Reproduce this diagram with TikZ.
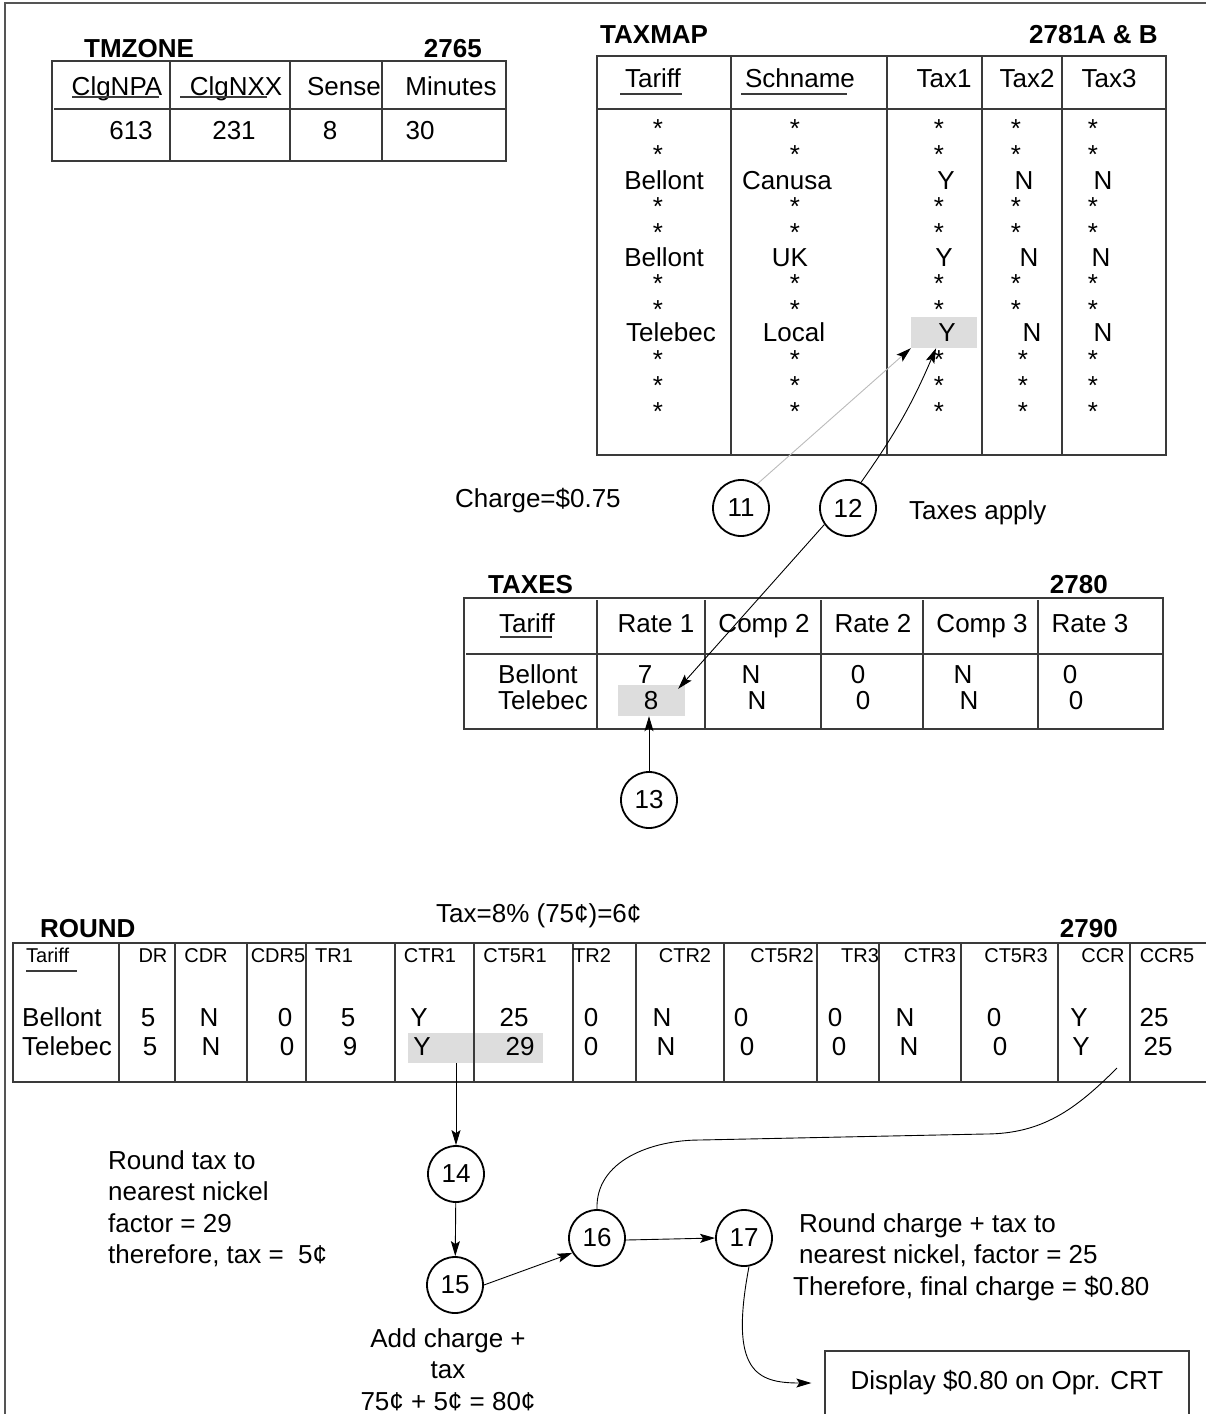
\documentclass[tikz,border=0pt]{standalone}
\usepackage{fontspec}
\setmainfont{Liberation Sans}
\usetikzlibrary{arrows.meta, calc}
\definecolor{tblline}{HTML}{3a3a3a}
\definecolor{hlgrey}{HTML}{dddddd}
\definecolor{faintline}{HTML}{bbbbbb}
\definecolor{frameline}{HTML}{555555}
\newcommand{\tblfont}{\fontsize{26}{31.5}\selectfont}
\newcommand{\colfont}{\fontsize{20}{24}\selectfont}
\newcommand{\ttlfont}{\fontsize{26}{31.5}\selectfont\bfseries}
\tikzset{
    tbl/.style={draw=tblline, line width=1.3pt},
    uline/.style={draw=tblline, line width=1.2pt},
    cell/.style={font=\tblfont, anchor=base, inner sep=0pt},
    colhead/.style={font=\colfont, anchor=base, inner sep=0pt},
    tbltitle/.style={font=\ttlfont, inner sep=0pt},
    stepnum/.style={circle, draw, line width=1.8pt, minimum size=56pt,
        inner sep=0pt, font=\tblfont},
    hl/.style={fill=hlgrey, inner sep=0pt},
    note/.style={font=\tblfont, inner sep=0pt},
    arr/.style={-{Stealth[length=15pt, width=9pt, inset=3pt, color=black]}, line width=0.9pt},
    arr faint/.style={arr, color=faintline},
    link/.style={line width=0.9pt}
}

\begin{document}
\begin{tikzpicture}[x=1pt, y=-1pt]
    \useasboundingbox (0,0) rectangle (1206,1414);

    % --- Frame ---
    \draw[frameline, line width=1.5pt] (5,1420) -- (5,3) -- (1212,3);

    % --- Highlighted cells (under the grid) ---
    \node[hl, minimum width=66pt, minimum height=31pt] (hlTax) at (944,332.5) {};
    \node[hl, minimum width=67pt, minimum height=31pt] (hl8) at (651.5,700.5) {};
    \node[hl, minimum width=135pt, minimum height=30pt] (hlR) at (475.5,1048) {};

    % --- TMZONE ---
    \node[tbltitle, anchor=base west] (tmzT) at (84,57) {TMZONE};
    \node[tbltitle, anchor=base east] (tmzN) at (482,57) {2765};
    \draw[tbl] (52,61) rectangle (506,161);
    \draw[tbl] (54,109) -- (506,109);
    \draw[tbl] (170,61) -- (170,161) (290,61) -- (290,161) (382,61) -- (382,161);
    \node[cell] (tmzH1) at (117,95) {ClgNPA};
    \node[cell] (tmzH2) at (236,95) {ClgNXX};
    \node[cell] (tmzH3) at (344,95) {Sense};
    \node[cell] (tmzH4) at (451,95) {Minutes};
    \draw[uline] (72,97) -- (159,97) (180,97) -- (267,97);
    \node[cell] (tmzD1) at (131,139) {613};
    \node[cell] (tmzD2) at (234,139) {231};
    \node[cell] (tmzD3) at (330,139) {8};
    \node[cell] (tmzD4) at (420,139) {30};

    % --- TAXMAP ---
    \node[tbltitle, anchor=base west] (tmT) at (600,43) {TAXMAP};
    \node[tbltitle, anchor=base east] (tmN) at (1158,43) {2781A \& B};
    \draw[tbl] (597,56) rectangle (1166,455);
    \draw[tbl] (597,109) -- (1166,109);
    \draw[tbl] (731,56) -- (731,455) (887,56) -- (887,455)
        (982,56) -- (982,455) (1062,56) -- (1062,455);
    \node[cell] (tmH1) at (653,87) {Tariff};
    \node[cell] (tmH2) at (800,87) {Schname};
    \node[cell] (tmH3) at (944,87) {Tax1};
    \node[cell] (tmH4) at (1027,87) {Tax2};
    \node[cell] (tmH5) at (1109,87) {Tax3};
    \draw[uline] (620,94) -- (682,94) (741,94) -- (847,94);

    \foreach \y [count=\r] in {137,163,215,241,292,318,368,394,420}{
        \node[cell] (aTar\r) at (658,\y) {*};
        \node[cell] (aSch\r) at (795,\y) {*};
        \node[cell] (aTxa\r) at (939,\y) {*};
        \node[cell] (aTxc\r) at (1093,\y) {*};
    }
    \foreach \y/\x [count=\r] in {137/1016,163/1016,215/1016,241/1016,292/1016,
        318/1016,368/1023,394/1023,420/1023}
        \node[cell] (aTxb\r) at (\x,\y) {*};

    \node[cell] (tmR1a) at (664,189) {Bellont};
    \node[cell] (tmR1b) at (787,189) {Canusa};
    \node[cell] (tmR1c) at (946,189) {Y};
    \node[cell] (tmR1d) at (1024,189) {N};
    \node[cell] (tmR1e) at (1103,189) {N};
    \node[cell] (tmR2a) at (664,266) {Bellont};
    \node[cell] (tmR2b) at (790,266) {UK};
    \node[cell] (tmR2c) at (944,266) {Y};
    \node[cell] (tmR2d) at (1029,266) {N};
    \node[cell] (tmR2e) at (1101,266) {N};
    \node[cell] (tmR3a) at (671,341) {Telebec};
    \node[cell] (tmR3b) at (794,341) {Local};
    \node[cell] (tmR3c) at (947,341) {Y};
    \node[cell] (tmR3d) at (1032,341) {N};
    \node[cell] (tmR3e) at (1103,341) {N};

    % --- Steps 11 and 12 ---
    \node[note, anchor=base west] (charge) at (455,507) {Charge=\$0.75};
    \node[stepnum] (c11) at (741,508) {11};
    \node[stepnum] (c12) at (848,508) {12};
    \node[note, anchor=base west] (apply) at (909,519) {Taxes apply};

    % --- TAXES ---
    \node[tbltitle, anchor=base west] (txT) at (488,593) {TAXES};
    \node[tbltitle, anchor=base east] (txN) at (1108,593) {2780};
    \draw[tbl] (464,598) rectangle (1163,729);
    \draw[tbl] (466,654) -- (1163,654);
    \draw[tbl] (597,600) -- (597,729) (705,600) -- (705,729) (821,600) -- (821,729)
        (923,600) -- (923,729) (1038,600) -- (1038,729);
    \node[cell] (txH1) at (527,632) {Tariff};
    \node[cell] (txH2) at (656,632) {Rate 1};
    \node[cell] (txH3) at (764,632) {Comp 2};
    \node[cell] (txH4) at (873,632) {Rate 2};
    \node[cell] (txH5) at (982,632) {Comp 3};
    \node[cell] (txH6) at (1090,632) {Rate 3};
    \draw[uline] (500,637) -- (552,637);
    \node[cell, anchor=base west] (txR1a) at (498,683) {Bellont};
    \node[cell, anchor=base west] (txR2a) at (498,709) {Telebec};
    \foreach \x/\t [count=\i] in {645/7, 751/N, 858/0, 963/N, 1070/0}
        \node[cell] (txR1\i) at (\x,683) {\t};
    \foreach \x/\t [count=\i] in {651/8, 757/N, 863/0, 969/N, 1076/0}
        \node[cell] (txR2\i) at (\x,709) {\t};

    \node[stepnum] (c13) at (649,800) {13};

    % --- ROUND ---
    \node[tbltitle, anchor=base west] (rdT) at (40,937) {ROUND};
    \node[note, anchor=base west] (taxcalc) at (436,922) {Tax=8\% (75¢)=6¢};
    \node[tbltitle, anchor=base east] (rdN) at (1118,937) {2790};
    \draw[tbl] (1212,943) -- (13,943) -- (13,1082) -- (1212,1082);
    \foreach \x in {119,175,247,306,395,474,573,636,724,817,879,961,1058,1130}
        \draw[tbl] (\x,943) -- (\x,1082);
    \node[colhead, anchor=base west] (rdH0) at (26,962) {Tariff};
    \draw[uline] (26,971) -- (77,971);
    \foreach \x/\t [count=\i] in {153/DR, 206/CDR, 278/CDR5, 334/TR1, 430/CTR1,
        515/CT5R1, 592/TR2, 685/CTR2, 782/CT5R2, 860/TR3, 930/CTR3,
        1016/CT5R3, 1103/CCR, 1167/CCR5}
        \node[colhead] (rdH\i) at (\x,962) {\t};
    \node[cell, anchor=base west] (rdR1a) at (22,1026) {Bellont};
    \node[cell, anchor=base west] (rdR2a) at (22,1055) {Telebec};
    \foreach \x/\t [count=\i] in {148/5, 209/N, 285/0, 348/5, 419/Y, 514/25, 591/0,
        662/N, 741/0, 835/0, 905/N, 994/0, 1079/Y, 1154/25}
        \node[cell] (rdR1\i) at (\x,1026) {\t};
    \foreach \x/\t [count=\i] in {150/5, 211/N, 287/0, 350/9, 422/Y, 520/29, 591/0,
        666/N, 747/0, 839/0, 909/N, 1000/0, 1081/Y, 1158/25}
        \node[cell] (rdR2\i) at (\x,1055) {\t};

    % --- Steps 14 to 17 ---
    \node[stepnum] (c14) at (456,1174) {14};
    \node[stepnum] (c15) at (455,1285) {15};
    \node[stepnum] (c16) at (597,1238) {16};
    \node[stepnum] (c17) at (744,1238) {17};

    \node[note, anchor=north west, align=left] (roundTax) at (108,1150)
        {Round tax to\\nearest nickel\\factor = 29\\therefore, tax =\ \ 5¢};
    \node[note, anchor=north, align=center] (addTax) at (448,1328)
        {Add charge +\\tax\\75¢ + 5¢ = 80¢};
    \node[note, anchor=north west, align=left] (roundChg) at (793,1213)
        {\hspace*{6pt}Round charge + tax to\\\hspace*{6pt}nearest nickel, factor = 25\\Therefore, final charge = \$0.80};
    \node[draw=tblline, line width=1.3pt, minimum width=364pt, minimum height=64pt,
        font=\tblfont] (disp) at (1007,1383) {Display \$0.80 on Opr. CRT};

    \coordinate (ccrTail) at (1117,1068);

    % --- Arrows ---
    \draw[arr faint] (c11.56) -- (hlTax.south west);
    \draw[arr] (c12.63) to[bend right=6] ($(hlTax.south west)!0.38!(hlTax.south east)$);
    \draw[arr] (c12.215) -- ([xshift=-7pt, yshift=-4pt]hl8.north east);
    \draw[arr] (c13.north) -- (c13.north |- hl8.south);
    \draw[arr] (c14.north |- hlR.south) -- (c14.north);
    \draw[arr] (c14) -- (c15);
    \draw[arr] (c15.east) -- (c16.211);
    \draw[arr] (c16.-4) -- (c17.west);
    \draw[link] (c16.north) to[out=92, in=180] (700,1140) -- (985,1134)
        to[out=0, in=225] (ccrTail);
    \draw[arr] (c17.-80) .. controls +(-20,105) and +(-55,0) .. ([xshift=-13pt]disp.west);

\end{tikzpicture}
\end{document}
